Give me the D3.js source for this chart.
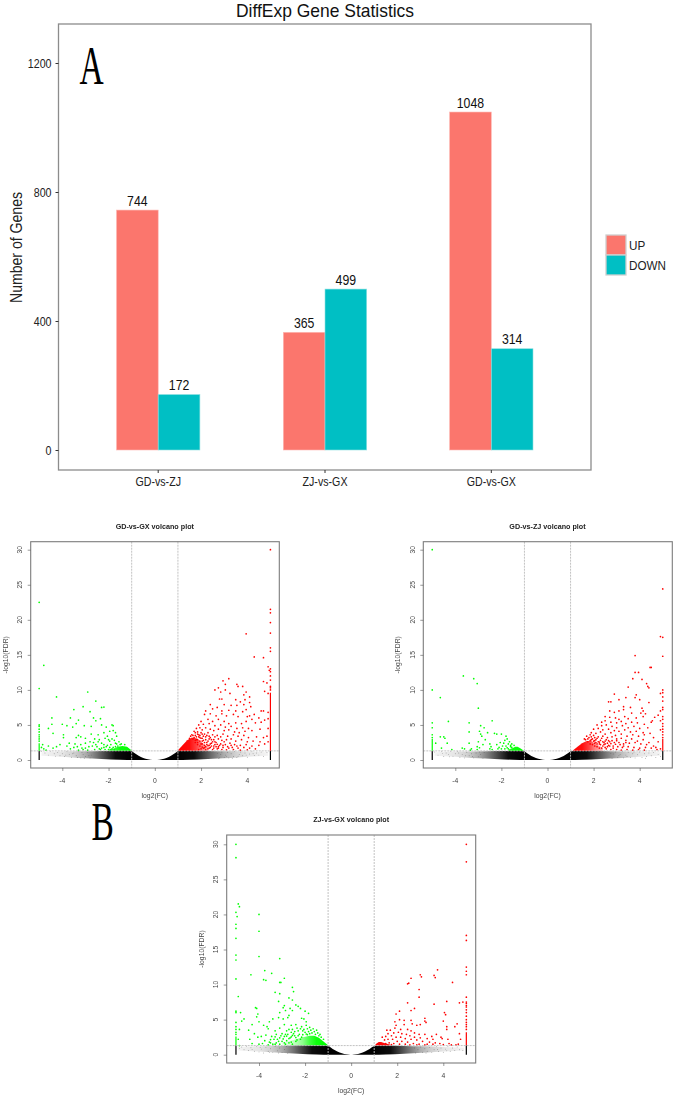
<!DOCTYPE html>
<html><head><meta charset="utf-8"><script src="https://cdn.jsdelivr.net/npm/d3@7"></script>
<style>html,body{margin:0;background:#fff}svg{display:block}</style></head><body><svg id="c" width="675" height="1095" font-family="Liberation Sans"></svg>
<script>
const groups=["GD-vs-ZJ","ZJ-vs-GX","GD-vs-GX"];
const upCounts=[744,365,1048];
const downCounts=[172,499,314];
const barTicks=[0,400,800,1200];
const legendLabels=["UP","DOWN"];
const volTitles=["GD-vs-GX volcano plot","GD-vs-ZJ volcano plot","ZJ-vs-GX volcano plot"];
const xTickVals=[-4,-2,0,2,4];
const yTickVals=[0,5,10,15,20,25,30];
const fcCut=[-1,1];
const fdrCut=[1.3];
// dense black cloud outline: x, lower edge, upper edge per plot
const massX=[-4.9,-4,-3.3,-2.7,-2.3,-1.9,-1.5,-1.2,-1,-.9,-.8,-.7,-.6,-.5,-.4,-.3,-.2,-.1,-.04,.04,.1,.2,.3,.4,.5,.6,.7,.8,.9,1,1.2,1.5,1.9,2.3,2.7,3.3,4,4.9];
const massBot=[.6,.45,.3,.2,.14,.08,.03,0,0,0,0,0,0,0,0,0,0,0,0,0,0,0,0,0,0,0,0,0,0,0,0,.03,.08,.14,.2,.3,.45,.6];
const massTop1=[1.1,1.2,1.25,1.25,1.28,1.3,1.3,1.3,1.3,1.05,.82,.62,.44,.3,.19,.11,.05,.015,0,0,.015,.05,.11,.19,.3,.44,.62,.82,1.05,1.3,1.3,1.3,1.3,1.28,1.25,1.25,1.2,1.1];
const massTop2=[1.1,1.2,1.2,1.25,1.28,1.3,1.3,1.3,1.25,1,.78,.58,.42,.28,.18,.1,.05,.015,0,0,.015,.05,.1,.18,.28,.42,.58,.78,1,1.25,1.3,1.3,1.3,1.28,1.25,1.2,1.2,1.1];
const massTop3=[1.1,1.2,1.25,1.28,1.3,1.3,1.3,1.3,1.3,1.05,.82,.62,.44,.3,.19,.11,.05,.015,0,0,.015,.05,.11,.19,.3,.44,.62,.82,1.05,1.25,1.3,1.3,1.28,1.25,1.2,1.2,1.1,1];
// dense coloured clouds: x, upper edge
const upDenseX1=[1,1.2,1.4,1.6,1.8,2,2.3];
const upDenseTop1=[1.4,2.1,2.8,3.2,3.1,2.6,1.8];
const downDenseX1=[-2,-1.8,-1.6,-1.4,-1.2,-1];
const downDenseTop1=[1.5,1.6,1.9,2,1.9,1.35];
const upDenseX2=[1.1,1.3,1.5,1.7,1.9,2.1,2.4];
const upDenseTop2=[1.35,1.9,2.4,2.7,2.7,2.3,1.7];
const downDenseX2=[-1.7,-1.5,-1.4,-1.3,-1.2,-1.1,-1.03];
const downDenseTop2=[1.5,1.7,1.9,1.9,1.7,1.5,1.32];
const upDenseX3=[1.03,1.1,1.2,1.3,1.5,1.7];
const upDenseTop3=[1.35,1.6,1.8,1.8,1.6,1.45];
const downDenseX3=[-3,-2.5,-2.1,-1.8,-1.6,-1.4,-1.2,-1];
const downDenseTop3=[1.7,2.1,2.5,2.7,2.7,2.4,1.9,1.35];
// columns of clipped values at the |log2FC| = 5 edge
const upEdgeSpan1=[1.3,9.6];const downEdgeSpan1=[1.3,2.4];
const upEdgeSpan2=[1.3,3];const downEdgeSpan2=[1.3,3];
const upEdgeSpan3=[1.3,3.2];const downEdgeSpan3=[1.3,2.6];
const zeroEdgeSpan=[0,1.3];
const downPts1=[-5,22.5,-5,10.2,-5,5,-5,4.8,-5,4.4,-5,4,-5,3.6,-5,3.3,-5,3,-5,2.7,-4.8,13.5,-4.25,9,-2.9,9.7,-2.55,8.4,-3.1,7.6,-2.3,7.5,-2.2,7.55,-2.8,6.9,-3.5,7.2,-4.45,6,-3.65,6,-2.65,6,-2.35,5.9,-2.55,5.6,-3.3,5.7,-4,5.1,-3.8,4.9,-3.55,4.7,-3.4,5.2,-3.05,4.9,-2.75,4.8,-2.3,5,-1.85,5,-1.8,4.9,-2.1,4.7,-4.6,4.5,-4.45,5.1,-4.4,3.8,-3.95,3.6,-3.95,3.2,-3.3,3.5,-3.4,3.2,-3.2,3.3,-3,3.1,-2.75,3.7,-2.45,3.6,-2.05,3.4,-1.95,4.1,-1.8,4.2,-1.7,3.9,-1.65,3.4,-2.2,3.9,-2.4,2.9,-2.6,3,-2.8,2.6,-3,2.4,-3.2,2.2,-3.45,2.3,-3.5,1.8,-3.7,2.4,-3.65,1.6,-3.8,2,-4.1,2.2,-4.25,1.9,-4.4,1.7,-4.6,2,-4.85,2.2,-4.9,1.8,-2.85,1.9,-2.7,2,-2.55,2.2,-2.3,2.4,-2.2,2.2,-2.1,1.9,-1.95,2.7,-1.9,2.2,-1.8,1.8,-1.7,2.4,-1.6,2,-1.55,2.6,-1.5,2.2,-1.85,3,-2,2.9,-2.15,3.1,-2.3,1.7,-2.4,1.6,-2.6,1.5,-2,1.5,-1.75,1.5,-3.1,1.5,-3.3,1.4,-2.9,1.4,-1.65,2.3,-1.45,2.3,-1.3,2.2,-1.9,1.5,-2.45,2.6,-2.65,2.5,-1.75,2.8,-2.5,1.9,-2.35,1.5,-2.2,1.8,-2.15,1.5,-2.05,2.1,-1.95,1.8,-1.85,1.6,-1.7,1.9,-3,1.7,-3.35,1.9,-3.15,1.7,-4.7,1.4,-4.8,1.6];
const upPts1=[5,30,5,21.5,5,21,5,19.6,5,18.1,5,16,5,15.5,5,13,5,12.6,5,12,5,11.4,5,10.5,5,10.3,5,10,3.95,18,4.3,14.7,4.7,14.6,4.9,13.3,4.95,12.8,4.7,11.2,4.85,11,3.2,11.6,2.95,11.3,3.05,10.8,3.55,10.8,3.6,10.5,3.8,10.5,2.75,10.3,2.6,10,3.05,10,2.85,9.7,3.25,9.5,3.95,9.7,3.85,9.3,4.1,9,4.75,9.8,4.9,9.5,2.8,8.7,2.9,8.7,3.5,8.6,3.7,8.3,3.9,8.6,4.1,8.2,2.4,7.9,2.7,7.5,3,7.9,3.3,7.8,3.55,7.8,3.85,7.9,4.15,7.6,2.2,7,2.5,7.3,2.9,7,3.2,7.1,3.5,7,3.8,6.9,3.95,7.2,4.3,6.5,4.6,7,4.7,7,4.9,6.8,2.15,6.5,2.4,6.6,2.65,6.3,2.9,6.6,3.1,6.3,3.4,6.5,3.6,6.2,4,6.2,4.1,6.3,4.2,5.8,4.5,6,4.75,5.7,2,5.5,2.3,5.8,2.5,5.5,2.75,5.8,3,5.5,3.2,5.2,3.5,5.3,3.75,5.2,3.95,5.5,4.35,5.3,4.6,5.4,4.9,5.9,1.9,5,2.1,5.1,2.35,5.2,2.6,4.9,2.85,5,3.05,4.7,3.3,4.8,3.55,4.5,3.8,4.6,4.05,4.5,4.55,4.4,4.9,4.5,1.8,4.5,1.95,4.6,2.05,4.3,2.2,4.6,2.4,4.4,2.55,4.2,2.75,4.4,3,4.2,3.2,4.3,3.45,4,3.65,3.9,3.9,4.1,4.2,4.2,1.7,4.1,1.85,4,2,3.9,2.15,3.7,2.3,3.9,2.5,3.6,2.7,3.5,2.95,3.7,3.15,3.4,3.4,3.6,3.6,3.4,3.85,3.5,4.05,3.2,4.4,3.3,4.7,3.2,4.85,3.4,1.6,3.6,1.75,3.5,1.9,3.3,2.05,3.1,2.2,3.3,2.35,3,2.55,2.9,2.75,3,2.9,2.8,3.1,2.9,3.3,3,3.5,2.7,3.75,2.9,4,2.6,4.25,2.7,4.55,2.6,1.5,3.1,1.65,3,1.8,2.9,1.95,2.7,2.1,2.8,2.25,2.5,2.45,2.4,2.65,2.5,2.85,2.3,3.05,2.2,3.25,2.4,3.45,2.2,3.7,2.1,3.95,2.2,4.2,2,4.5,2.1,4.75,2.3,4.9,2.6,1.85,2.5,2,2.3,2.15,2.1,2.35,2.1,2.55,2,2.75,1.9,2.95,1.8,3.15,1.9,3.35,1.8,3.6,1.7,3.85,1.8,4.1,1.7,4.35,1.6,2.1,1.7,2.3,1.6,2.5,1.5,2.7,1.6,2.9,1.5,3.1,1.45,3.4,1.5,3.7,1.4,4,1.45,2,1.6,1.9,1.5,2.2,1.45,1.75,3.9,1.85,3.7,1.95,3.5,2.05,3.7,2.1,3.4,2.2,2.9,2.25,3.5,2.3,2.7,2.35,3.4,2.4,2.3,2.4,3.2,2.45,2.9,2.5,2.6,2.6,2.2,2.6,3.3,2.65,1.9,2.8,2.1,2.85,3.3,1.7,3.2,1.8,3.3,1.85,2.9,1.9,3.6,2,3.1,2.05,2.7,2.15,2.5,2.2,1.9,2.25,2.2,2.3,2.05,2.35,1.7,2.4,1.8,2.45,2,2.55,1.7,2.6,2.6,2.7,2.25,2.75,1.7,2.95,2.1,3,2.6,3.2,1.7,3.3,2.1,3.55,2,1.65,3.5,1.55,3.4,1.75,2.8,1.85,2.2,1.95,2,2.05,1.85,2.15,1.75,1.75,2.5,2.05,2.3,1.95,3.2];
const grayPts1=[-4.9,1.2,-4.75,1,-4.6,.7,-4.5,1.2,-4.35,.9,-4.2,1.1,-4.1,.6,-4,.9,-3.9,.5,-3.8,1.2,-3.7,.8,-3.6,.4,-3.5,1,-3.4,.6,-3.3,1.2,-3.2,.3,-3.1,.8,-3,.5,-2.9,1.1,-2.8,.3,-2.75,.7,-4.3,.55,-3.85,.7,-3.55,.9,-3.15,1.05,-2.85,.6,-3.35,.35,-3.05,.25,2.8,.3,2.85,.8,2.9,1.15,3,.4,3.05,.7,3.15,1.1,3.2,.3,3.3,.9,3.4,.5,3.45,1.2,3.55,.35,3.65,.8,3.7,1.15,3.8,.6,3.9,1,4,.4,4.1,.85,4.2,1.2,4.3,.65,4.4,1,4.5,.7,4.6,1.15,4.7,.5,4.85,1.1,2.75,.2,2.7,.95,3.1,.55,3.35,.25,3.6,.55,3.95,.7,4.25,.9];
const downPts2=[-5,30,-5,10,-5,5.3,-5,4.6,-5,3.6,-5,3.2,-4.65,8.9,-3.65,12,-3.2,11.6,-3.05,10.9,-3,7.4,-4.3,5.5,-3.4,5.3,-2.4,5.6,-2.9,4.9,-2.75,4.6,-3.4,4,-2.95,4.1,-2.9,3.7,-2.6,3.9,-2.85,3.4,-2.3,3.8,-2.2,3.7,-2,3.7,-1.8,3.4,-4.65,3.3,-4.5,3.3,-4.45,3.1,-4.35,2.4,-4.85,2.4,-3.4,2.4,-3,2.6,-2.7,2.9,-2.5,2.3,-2.05,2.5,-1.85,2.8,-1.75,3,-1.65,2.6,-1.55,2.3,-4.6,1.7,-4.15,1.5,-3.7,1.7,-3.6,1.6,-3.3,1.6,-3.35,1.4,-3.05,1.9,-2.45,1.9,-2.4,1.5,-2.2,2.2,-2.1,1.8,-2,1.6,-1.9,2.4,-1.8,2,-1.7,1.6,-1.6,1.9,-2.8,2.2,-2.5,1.6,-3.05,1.5,-2.95,1.75,-1.95,2,-1.7,2.3,-1.85,1.6,-1.6,2.1,-1.55,1.8,-1.75,1.75,-1.45,2.1,-2.15,1.6];
const upPts2=[5,24.4,5,17.5,5,14.8,5,10,5,9.6,5,9,5,8.4,5,7.5,5,7.2,5,6.2,5,5.8,5,5.2,5,4.8,5,4.4,5,4,5,3.6,5,3.2,4.9,17.6,3.8,14.9,4.45,13.2,4.5,13.2,3.8,12.5,3.95,12.5,3.7,11.6,4.1,11.5,4.3,10.9,4.35,10.5,4.4,10.3,3.5,10.4,2.9,9.4,4.9,9.5,3.4,8.9,3.8,8.9,3.85,9.3,3.1,8.6,2.75,8.3,2.65,8.3,4,8.6,4.4,8.2,3.6,7.5,3.3,7.6,2.7,7,2.9,6.8,3.1,7,3.3,7.2,3.65,6.7,4.1,7.4,4.15,7,4.05,6.7,4.25,6.6,4.8,6.4,4.9,7,4.65,6.1,2.5,6.2,2.7,6.1,2.95,6,3.1,5.8,3.35,6.2,3.5,5.9,3.85,6,4.15,6.2,4.55,5.6,4.9,5.6,2.35,5.4,2.5,5.6,2.75,5.4,3,5.3,3.2,5.5,3.4,5.2,3.65,5.4,3.9,5.3,4.2,5.1,4.5,5.4,2.15,5,2.35,4.9,2.55,5,2.8,4.8,3,4.6,3.25,4.9,3.5,4.6,3.75,4.8,4,4.5,4.35,4.6,4.9,4.3,2,4.4,2.2,4.5,2.4,4.3,2.65,4.4,2.9,4.2,3.1,4.1,3.35,4.3,3.6,4,3.85,4.1,4.15,3.9,4.45,3.8,1.9,3.9,2.1,3.8,2.3,4,2.5,3.7,2.75,3.9,2.95,3.5,3.2,3.7,3.45,3.4,3.7,3.6,3.95,3.4,4.2,3.6,4.6,3.2,1.7,3.4,1.85,3.6,2,3.5,2.2,3.3,2.4,3.4,2.6,3.2,2.8,3.3,3,3,3.2,3.1,3.4,2.8,3.65,3,3.9,2.7,4.15,2.9,4.4,2.5,4.8,2.6,1.6,3,1.75,3,1.95,3,2.1,2.9,2.3,2.8,2.5,2.7,2.7,2.6,2.9,2.5,3.1,2.5,3.3,2.3,3.55,2.4,3.8,2.5,4.05,2.3,4.3,2.2,4.6,2,2.05,2.4,2.25,2.3,2.45,2.2,2.65,2.1,2.85,2,3.05,1.9,3.25,1.8,3.5,1.9,3.75,1.8,4,1.7,4.25,1.8,4.5,1.7,4.7,1.8,4.9,1.6,2.15,1.9,2.35,1.7,2.55,1.6,2.75,1.5,3,1.5,3.2,1.4,3.45,1.5,3.7,1.4,3.95,1.5,4.2,1.4,4.75,1.5,1.8,3.2,1.9,2.9,2,2.7,2.05,3.2,2.1,2.5,2.15,3.1,2.2,2.6,2.25,1.7,2.3,2.2,2.35,3.1,2.4,2,2.45,2.5,2.5,1.8,2.55,2.9,2.6,2.4,2.65,2.75,2.7,2,2.8,2.75,2.85,1.7,2.95,2.25,3,2.75,3.15,2.2,3.3,2,3.4,2.5,1.85,2.3,1.95,2.2,2.05,2,2.15,2.3,1.65,2.9,1.75,2.6,1.85,2.75,2.25,2.55,2.4,2.6,2.5,2.3,2.6,1.9,2.75,2.35,1.9,3.3,2.05,2.75];
const grayPts2=[-4.9,1.15,-4.75,.7,-4.6,1.2,-4.5,.5,-4.4,1,-4.3,.8,-4.2,1.2,-4.1,.55,-4,.9,-3.9,1.2,-3.8,.4,-3.7,.8,-3.6,.3,-3.5,1.1,-3.4,.6,-3.3,.9,-3.2,.3,-3.1,1,-3,.45,-2.9,.8,-2.8,.2,-2.75,1.05,-4.55,.95,-4.25,.45,-3.85,1,-3.55,.6,-3.25,.5,-2.95,1.15,2.8,.25,2.85,.85,2.95,1.15,3.05,.4,3.15,.8,3.25,1.2,3.3,.3,3.4,.7,3.5,1.05,3.6,.4,3.7,.9,3.8,.3,3.9,.75,4,1.15,4.1,.35,4.2,.9,4.3,.5,4.4,1,4.5,.6,4.6,1.1,4.7,.35,4.8,.8,4.9,.5,2.75,.95,3.1,.6,3.45,.5,3.75,1.15,4.25,.25];
const downPts3=[-5,30,-5,28.1,-5,20.3,-5,18.6,-5,18,-5,16.6,-5,14.2,-5,13.5,-5,10.8,-5,6.2,-5,6,-5,4.6,-5,4,-5,3.6,-5,3.2,-5,2.9,-4.9,21.5,-4.85,21.1,-4.95,19.7,-4,20,-4,17.6,-4,14,-3.1,13.7,-4.35,11.4,-3.75,12,-3.45,11.6,-3.8,10.7,-3.7,10.6,-2.9,10.9,-3.1,10.3,-3.05,10.3,-2.55,9.6,-3.1,8.7,-3.3,8.9,-2.5,9,-2.7,8.1,-2.55,7.8,-4.9,8.3,-3.15,7.6,-2.4,7.1,-2.9,7,-2.95,6.7,-2.3,6.9,-2.65,6.6,-2.2,6.6,-2.85,6.3,-2.55,6.3,-2,6.2,-1.85,5.9,-3.1,6,-4.15,6.7,-4.1,6.6,-4.05,5.8,-4.1,5.4,-4,4.7,-4.8,6,-4.65,5.1,-4.75,4.8,-3.55,4.7,-3.8,4.2,-3.65,4,-3.4,5.1,-3.15,5.3,-2.95,5.1,-2.75,5.3,-2.7,5.6,-2.15,5.2,-2.05,5.1,-1.95,4.7,-4.85,3.6,-4.45,3.5,-4.3,4.3,-3.3,3.4,-3.6,3.7,-3.1,3.8,-2.9,4.3,-2.6,4.2,-2.4,4.3,-2.15,4,-1.95,4.2,-1.8,3.9,-1.65,3.7,-1.5,3.5,-4.2,3,-3.9,2.6,-3.7,2.8,-3.45,2.6,-3.25,2.9,-3,3,-2.8,3.4,-2.55,3.6,-2.3,3.4,-2.05,3.6,-1.85,3.3,-2.75,2.9,-2.5,3,-2.25,2.9,-3.35,2.2,-3.1,2.4,-2.9,2.6,-2.65,2.4,-2.45,2.7,-2.15,2.5,-4.4,2.2,-4.05,2.5,-3.75,2,-3.55,1.8,-3.25,1.7,-3,1.9,-2.8,2,-2.6,1.8,-2.35,2.1,-4.3,1.6,-4,1.5,-3.6,1.4,-3.4,1.5,-3.1,1.5,-2.85,1.5,-2.55,1.5,-4.85,1.3,-4.9,2.2,-2.7,1.7,-1.75,3.5,-1.9,3.7,-2,3.2,-2.1,3.4,-2.2,3.7,-2.35,3.8,-2.45,3.3,-2.6,3.2,-2.7,3.6,-2.85,2.9,-3.05,2.7,-3.2,2.2,-1.6,3.3,-1.7,3.1,-1.8,3,-1.95,2.95,-2.1,2.85,-2.3,2.7,-2.4,2.45,-2.55,2.75,-2.7,2.3,-2.8,2.65,-2.95,2.25,-3.15,1.9,-3.3,2.55,-3.5,2.15,-1.45,3.1,-1.55,2.9,-1.4,2.7,-1.3,2.5,-1.2,2.2,-1.35,2.9,-1.9,2.85,-2.6,2.55,-2.9,1.7,-3.3,1.5,-3.5,1.7,-3.85,1.6,-2.2,2.2,-2.4,1.9];
const upPts3=[5,30,5,27.5,5,17,5,16.3,5,12.5,5,11.9,5,11.4,5,8.2,5,7.5,5,7.3,5,7,5,6.8,5,6.4,5,6,5,5.5,5,5,5,4.6,5,4.3,5,4,5,3.6,3.75,12.1,3,11.4,3.05,11.1,3.6,11.3,3.65,11,2.6,10.9,2.5,10.2,2.45,10.1,4.4,10.3,2.95,9.3,2.95,8.2,4.15,7.6,4.7,7.4,4.85,7.5,2.45,7.4,3.6,7.2,2.6,6.3,2.75,6.6,2.1,6.2,1.95,5.8,4.05,6,4.1,5.7,3.2,5.2,3.2,4.8,3.25,4.6,4,4.8,2.1,5,2.3,4.9,2.6,4.9,2.65,4.4,2.85,4.2,3,4.3,4.6,4.4,4.5,4,4.15,4,1.9,4.7,1.95,4.2,2.3,4.3,1.9,3.8,2.15,3.6,2.45,3.6,2.6,3.4,2.75,3.1,2.95,2.9,3.2,2.9,3.5,2.6,3.7,2.9,3.9,2.5,4.15,3.6,4.7,3,1.55,3.5,1.7,3.5,1.6,3,1.85,3.1,2.05,3.2,2.2,3,2.4,2.9,2.55,2.7,2.75,2.5,3,2.4,3.3,2.3,3.55,2.2,3.95,2.3,4.2,2.2,4.75,2.2,1.5,2.6,1.75,2.7,1.95,2.5,2.15,2.5,2.35,2.3,2.6,2.2,2.85,2.1,3.1,1.9,3.4,1.8,3.65,1.7,4.25,1.6,4.55,1.4,1.35,2.5,1.45,2.1,1.6,2.2,1.8,2.2,2,1.9,2.2,1.9,2.45,1.8,2.7,1.6,2.95,1.5,3.2,1.4,3.55,1.5,3.85,1.6,4,1.45,4.65,1.5,1.5,1.6,1.65,1.7,1.85,1.6,2.1,1.5,2.35,1.5,2.55,1.4,1.55,1.4,1.75,1.45,2.85,1.4,3.3,1.5,4.35,1.4];
const grayPts3=[-4.85,.9,-4.75,1.1,-4.65,.7,-4.55,1.2,-4.45,.6,-4.35,1,-4.2,.5,-4.1,1.15,-4,.4,-3.9,.8,-3.8,.25,-3.7,1.05,-3.6,.5,-3.5,.85,-3.4,.3,-3.3,1.2,-3.2,.55,-3.1,.95,-3,.3,-2.9,.75,-2.8,1.2,-4.3,.75,-3.95,1.05,-3.55,.3,-3.15,.25,-2.75,.2,2.8,.25,2.9,.7,3,1.1,3.1,.35,3.2,.85,3.3,.5,3.4,1.05,3.5,.3,3.6,.7,3.7,1.15,3.8,.45,3.9,.95,4,.35,4.1,.8,4.2,1.2,4.3,.5,4.4,.95,4.5,.6,4.6,1.1,4.7,.7,4.85,.6,2.75,.95,3.25,.25,3.75,.75,4.15,.55];

const svg=d3.select("#c");
const defs=svg.append("defs");
const BOX="#8c8c8c";
const narrow=(g,x,y,s,size,sx,anchor="middle",col="#111")=>g.append("text").attr("transform",`translate(${x},${y}) scale(${sx},1)`).attr("text-anchor",anchor).attr("font-size",size).attr("fill",col).text(s);

// ---- A: bars ----
const by=d3.scaleLinear().domain([0,1200]).range([450,63]);
const panel={l:58.5,r:591,t:24,b:470};
const bw=41.7;
const barCx=d3.scaleOrdinal().domain(groups).range([158.2,325,491.3]);
svg.append("rect").attr("x",panel.l).attr("y",panel.t).attr("width",panel.r-panel.l).attr("height",panel.b-panel.t).attr("fill","#fff").attr("stroke",BOX).attr("stroke-width",1.3);
const series=[{vals:upCounts,col:"#FB766D",edge:"#FDB9B4",off:-1},{vals:downCounts,col:"#00BFC4",edge:"#8FE0E2",off:0}];
series.forEach(s=>{
 svg.append("g").selectAll("rect").data(groups).join("rect")
  .attr("x",d=>barCx(d)+s.off*bw).attr("width",bw)
  .attr("y",(d,i)=>by(s.vals[i])).attr("height",(d,i)=>by(0)-by(s.vals[i]))
  .attr("fill",s.col).attr("stroke",s.edge).attr("stroke-width",.6);
 groups.forEach((d,i)=>narrow(svg,barCx(d)+(s.off+.5)*bw,by(s.vals[i])-4.5,String(s.vals[i]),15,.82));
});
const axL=svg.append("g").attr("transform",`translate(${panel.l},0)`).call(d3.axisLeft(by).tickValues(barTicks).tickSize(3).tickFormat(()=>"" ));
axL.select(".domain").remove();axL.selectAll("line").attr("stroke","#333");
barTicks.forEach(v=>narrow(svg,51.5,by(v)+4.5,String(v),13,.82,"end","#222"));
const axB=svg.append("g");
groups.forEach(d=>{axB.append("line").attr("x1",barCx(d)).attr("x2",barCx(d)).attr("y1",panel.b).attr("y2",panel.b+3).attr("stroke","#333");narrow(axB,barCx(d),486,d,13,.82,"middle","#222");});
narrow(svg,325,16.5,"DiffExp Gene Statistics",18,.97);
svg.append("text").attr("transform","translate(21.5,247.5) rotate(-90) scale(.88,1)").attr("text-anchor","middle").attr("font-size",16).attr("fill","#222").text("Number of Genes");
// legend
[["#FB766D",235],["#00BFC4",255]].forEach(([c,y],i)=>{
 svg.append("rect").attr("x",606).attr("y",y).attr("width",20).attr("height",20).attr("fill",c).attr("stroke","#cfcfcf").attr("stroke-width",1.3);
 narrow(svg,629,y+14.5,legendLabels[i],13,.9,"start","#222");
});
// panel letters
const letter=(s,x,y,size,sx)=>svg.append("text").attr("transform",`translate(${x},${y}) scale(${sx},1)`).attr("font-family","Liberation Serif").attr("font-size",size).attr("fill","#000").text(s);
letter("A",79.5,84,54,.62);
letter("B",91.5,840,54,.62);

// ---- B: volcano plots ----
const massFade=[[1,1],[1.7,.95],[2,.8],[2.5,.55],[3,.32],[3.5,.18],[4,.1],[5,.04]];
const colourFade=[[1,1],[1.5,.95],[1.8,.75],[2.1,.45],[2.5,.22],[3,.08]];
function fade(id,x,sign,stops,c){
 const g=defs.append("linearGradient").attr("id",id).attr("gradientUnits","userSpaceOnUse").attr("x1",x(sign)).attr("x2",x(sign*5)).attr("y1",0).attr("y2",0);
 stops.forEach(([v,o])=>g.append("stop").attr("offset",(v-1)/4).attr("stop-color",c).attr("stop-opacity",o));
}
function volcano(o){
 const x=d3.scaleLinear().domain([-4,4]).range(o.xr);
 const y=d3.scaleLinear().domain([0,30]).range(o.yr);
 const g=svg.append("g").style("filter","blur(.3px)");
 const pairs=a=>d3.range(0,a.length,2).map(i=>[a[i],a[i+1]]);
 fade("mp"+o.id,x,1,massFade,"#000");fade("mn"+o.id,x,-1,massFade,"#000");
 fade("cp"+o.id,x,1,colourFade,"#ff0000");fade("cn"+o.id,x,-1,colourFade,"#00ff00");
 const massPts=massX.map((v,i)=>({x:v,b:massBot[i],t:o.massTop[i]}));
 const massArea=d3.area().x(d=>x(d.x)).y0(d=>y(d.b)).y1(d=>y(d.t));
 g.append("path").datum(massPts.filter(d=>d.x>0)).attr("fill",`url(#mp${o.id})`).attr("d",massArea);
 g.append("path").datum(massPts.filter(d=>d.x<0)).attr("fill",`url(#mn${o.id})`).attr("d",massArea);
 g.append("g").selectAll("circle").data(pairs(o.gray)).join("circle").attr("cx",d=>x(d[0])).attr("cy",d=>y(d[1])).attr("r",.45).attr("fill","#222").attr("opacity",.55);
 // dense coloured clouds
 const dense=(xs,ts,c)=>g.append("path").datum(xs.map((v,i)=>[v,ts[i]])).attr("fill",c).attr("d",d3.area().x(d=>x(d[0])).y1(d=>y(d[1])).y0(y(1.3)));
 dense(o.upX,o.upT,`url(#cp${o.id})`);dense(o.downX,o.downT,`url(#cn${o.id})`);
 // edge columns
 const col=(v,sp,c,w)=>g.append("line").attr("x1",x(v)).attr("x2",x(v)).attr("y1",y(sp[0])).attr("y2",y(sp[1])).attr("stroke",c).attr("stroke-width",w);
 col(5,o.upSpan,"#ff0000",1.2);col(-5,o.downSpan,"#00ff00",1.2);
 col(5,zeroEdgeSpan,"#000",1.2);col(-5,zeroEdgeSpan,"#000",1.2);
 const pts=(a,c)=>g.append("g").selectAll("circle").data(pairs(a)).join("circle").attr("cx",d=>x(d[0])).attr("cy",d=>y(d[1])).attr("r",.85).attr("fill",c);
 pts(o.up,"#ff0000");pts(o.down,"#00ff00");
 // cut lines
 fcCut.forEach(v=>g.append("line").attr("x1",x(v)).attr("x2",x(v)).attr("y1",o.t).attr("y2",o.b).attr("stroke","#bbb").attr("stroke-width",.9).attr("stroke-dasharray","2 1"));
 fdrCut.forEach(v=>g.append("line").attr("x1",o.l).attr("x2",o.r).attr("y1",y(v)).attr("y2",y(v)).attr("stroke","#bbb").attr("stroke-width",.9).attr("stroke-dasharray","2 1"));
 g.append("rect").attr("x",o.l).attr("y",o.t).attr("width",o.r-o.l).attr("height",o.b-o.t).attr("fill","none").attr("stroke","#7c7c7c").attr("stroke-width",1.1);
 const ax=g.append("g").attr("transform",`translate(0,${o.b})`).call(d3.axisBottom(x).tickValues(xTickVals).tickSize(3).tickFormat(()=>""));
 ax.select(".domain").remove();ax.selectAll("line").attr("stroke","#555").attr("stroke-width",.6);
 const ay=g.append("g").attr("transform",`translate(${o.l},0)`).call(d3.axisLeft(y).tickValues(yTickVals).tickSize(3).tickFormat(()=>""));
 ay.select(".domain").remove();ay.selectAll("line").attr("stroke","#555").attr("stroke-width",.6);
 const tc="#444",fs=6.8;
 xTickVals.forEach(v=>g.append("text").attr("x",x(v)).attr("y",o.b+14.5).attr("text-anchor","middle").attr("font-size",fs).attr("fill",tc).text(v));
 yTickVals.forEach(v=>g.append("text").attr("transform",`translate(${o.l-8.5},${y(v)}) rotate(-90)`).attr("text-anchor","middle").attr("font-size",fs).attr("fill",tc).text(v));
 g.append("text").attr("x",x(0)).attr("y",o.b+29.5).attr("text-anchor","middle").attr("font-size",fs).attr("fill",tc).text("log2(FC)");
 g.append("text").attr("transform",`translate(${o.l-23},${(o.t+o.b)/2}) rotate(-90)`).attr("text-anchor","middle").attr("font-size",fs).attr("fill",tc).text("-log10(FDR)");
 g.append("text").attr("x",x(0)).attr("y",o.t-12.7).attr("text-anchor","middle").attr("font-size",7.2).attr("font-weight","bold").attr("fill","#222").text(o.title);
}
volcano({id:1,title:volTitles[0],xr:[62.3,247.3],yr:[760,549.7],l:30.7,r:279.3,t:541.7,b:768,massTop:massTop1,upX:upDenseX1,upT:upDenseTop1,downX:downDenseX1,downT:downDenseTop1,upSpan:upEdgeSpan1,downSpan:downEdgeSpan1,up:upPts1,down:downPts1,gray:grayPts1});
volcano({id:2,title:volTitles[1],xr:[455.3,639.7],yr:[760,549.7],l:423.3,r:672.3,t:541.7,b:768,massTop:massTop2,upX:upDenseX2,upT:upDenseTop2,downX:downDenseX2,downT:downDenseTop2,upSpan:upEdgeSpan2,downSpan:downEdgeSpan2,up:upPts2,down:downPts2,gray:grayPts2});
volcano({id:3,title:volTitles[2],xr:[259,443.3],yr:[1054.7,844.3],l:226.7,r:475.7,t:835,b:1063,massTop:massTop3,upX:upDenseX3,upT:upDenseTop3,downX:downDenseX3,downT:downDenseTop3,upSpan:upEdgeSpan3,downSpan:downEdgeSpan3,up:upPts3,down:downPts3,gray:grayPts3});
</script></body></html>
